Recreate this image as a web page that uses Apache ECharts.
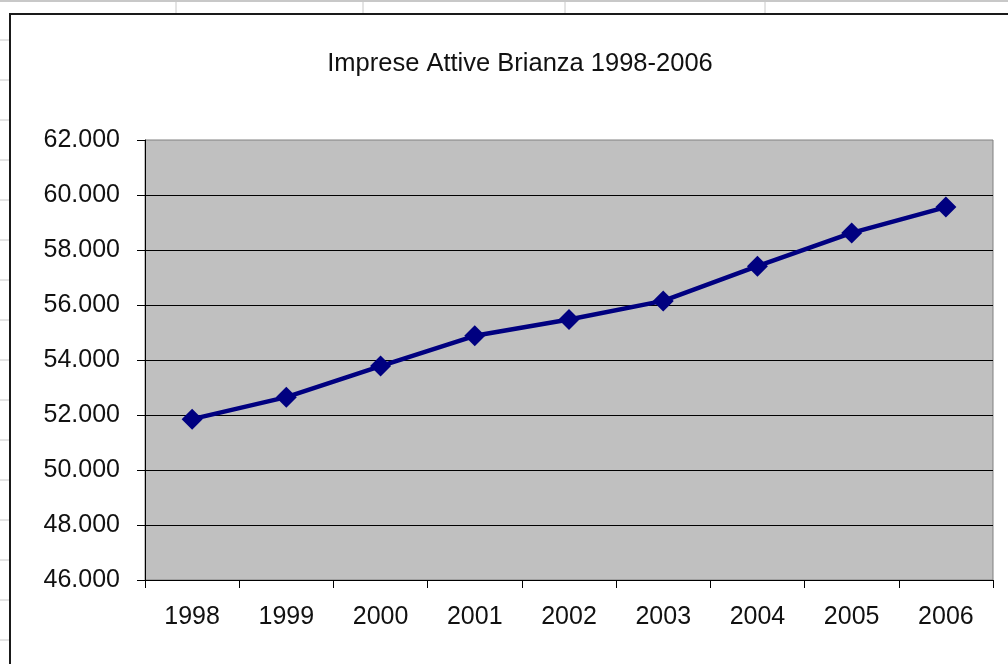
<!DOCTYPE html>
<html>
<head>
<meta charset="utf-8">
<script src="https://cdn.jsdelivr.net/npm/echarts@6/dist/echarts.min.js"></script>
<style>
html,body{margin:0;padding:0;background:#fff;}
#chart{width:1008px;height:664px;}
</style>
</head>
<body>
<div id="chart"></div>
<script>
const chartTitle = 'Imprese Attive Brianza 1998-2006';
const years = ['1998','1999','2000','2001','2002','2003','2004','2005','2006'];
const imprese = [51850, 52650, 53780, 54880, 55470, 56150, 57410, 58620, 59560];
const yMin = 46000, yMax = 62000, yStep = 2000;

function fmt(v){
  const t = Math.floor(v/1000), r = String(v%1000).padStart(3,'0');
  return t + '.' + r;
}

// spreadsheet decoration behind the chart object
const deco = [];
deco.push({type:'line', shape:{x1:0,y1:1,x2:1008,y2:1}, style:{stroke:'#c8c8c8',lineWidth:2}, z:-1});
[176,363,565,765].forEach(x=>deco.push({type:'line', shape:{x1:x,y1:0,x2:x,y2:14}, style:{stroke:'#c8c8c8',lineWidth:1}, z:-1}));
for(let y=40;y<664;y+=40){deco.push({type:'line', shape:{x1:0,y1:y,x2:9,y2:y}, style:{stroke:'#c8c8c8',lineWidth:1}, z:-1});}
deco.push({type:'rect', shape:{x:10,y:14,width:1020,height:700}, style:{fill:'none',stroke:'#1a1a1a',lineWidth:2}, z:-1});

const font = "'Liberation Sans', Arial, sans-serif";
const chart = echarts.init(document.getElementById('chart'), null, {renderer:'canvas'});
chart.setOption({
  animation:false,
  backgroundColor:'#fff',
  graphic: deco,
  title:{
    text: chartTitle, left: 515, top: 46, textAlign:'center',
    textStyle:{fontFamily:font, fontSize:25.5, fontWeight:'normal', color:'#111'}
  },
  grid:{left:145, top:140, right:15, bottom:84, show:true, backgroundColor:'#c0c0c0', borderColor:'#808080', borderWidth:1},
  xAxis:{
    type:'category', data: years, boundaryGap:true,
    axisLine:{lineStyle:{color:'#000', width:1}},
    axisTick:{show:true, alignWithLabel:false, length:8, lineStyle:{color:'#000'}},
    axisLabel:{fontFamily:font, fontSize:25, color:'#111', margin:25}
  },
  yAxis:{
    type:'value', min:yMin, max:yMax, interval:yStep,
    axisLine:{show:true, lineStyle:{color:'#000', width:1}},
    axisTick:{show:true, length:8, lineStyle:{color:'#000'}},
    axisLabel:{fontFamily:font, fontSize:25, color:'#111', margin:25, formatter: fmt},
    splitLine:{show:true, showMaxLine:false, lineStyle:{color:'#000', width:1}}
  },
  series:[{
    type:'line', data: imprese,
    symbol:'diamond', symbolSize:21,
    lineStyle:{color:'#000080', width:4.5},
    itemStyle:{color:'#000080'}
  }]
});
</script>
</body>
</html>
